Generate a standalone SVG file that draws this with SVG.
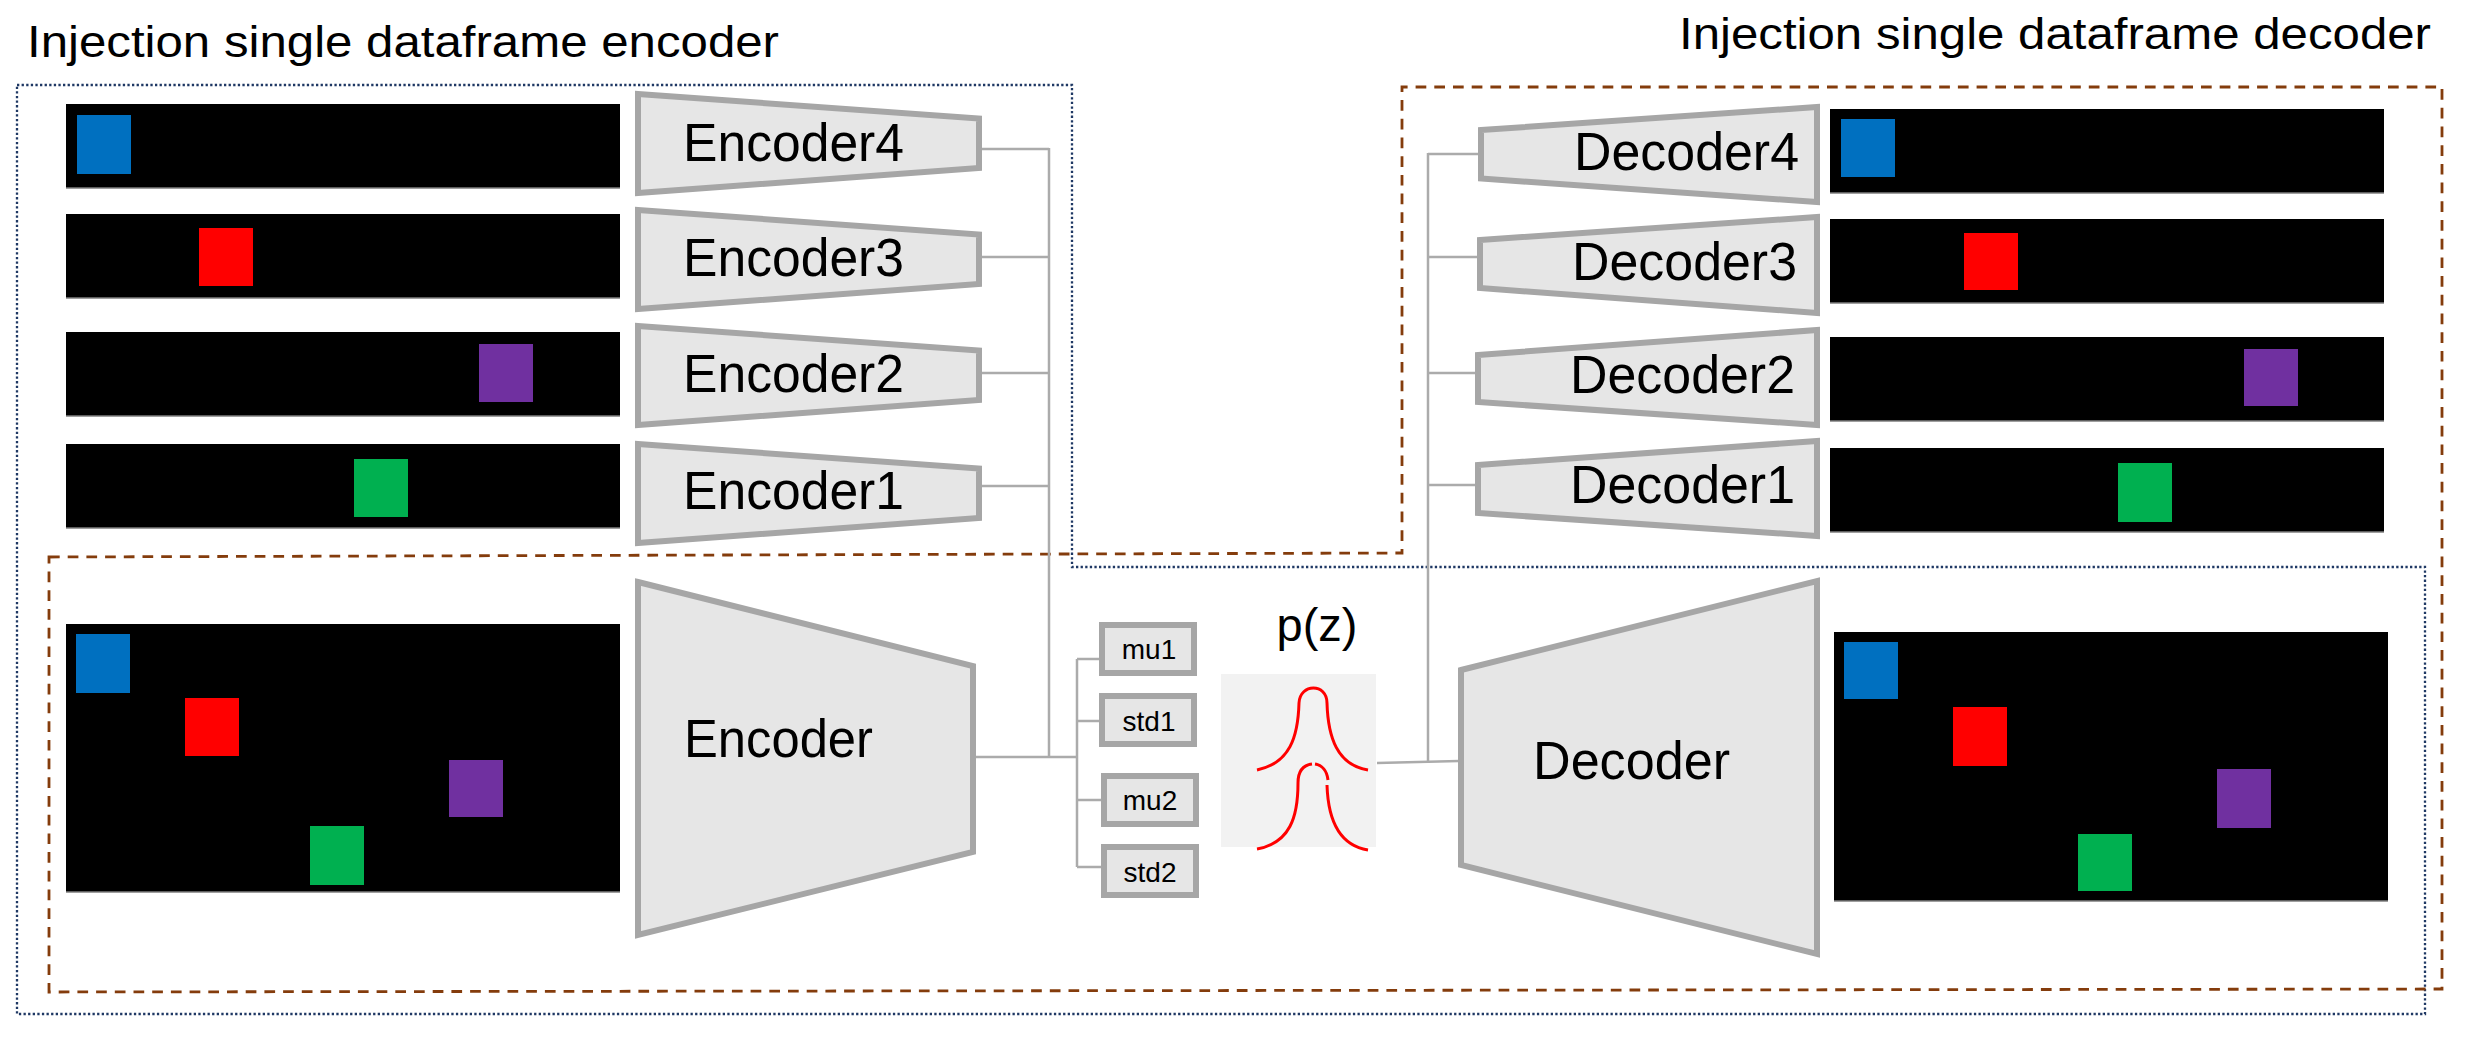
<svg xmlns="http://www.w3.org/2000/svg" width="2472" height="1050" viewBox="0 0 2472 1050">
<style>
.title{font-family:"Liberation Sans",Arial,sans-serif;font-size:45px;fill:#000}
.lbl{font-family:"Liberation Sans",Arial,sans-serif;font-size:54px;fill:#000}
.small{font-family:"Liberation Sans",Arial,sans-serif;font-size:28px;fill:#000;text-anchor:middle}
.trap{fill:#E6E6E6;stroke:#A6A6A6;stroke-width:6;stroke-linejoin:miter}
.box{fill:#E6E6E6;stroke:#A6A6A6;stroke-width:6}
.frame{fill:#000;stroke:none}
.fb{stroke:#7F7F7F;stroke-width:1.5}
.blue{fill:#0070C0}.red{fill:#FF0000}.purple{fill:#7030A0}.green{fill:#00B050}
.conn{fill:none;stroke:#ABABAB;stroke-width:2.5}
.dotted{fill:none;stroke:#1F3864;stroke-width:2.3;stroke-dasharray:2.3 2.3}
.dashed{fill:none;stroke:#843C0C;stroke-width:2.8;stroke-dasharray:10.7 8}
.curve{fill:none;stroke:#FF0000;stroke-width:3}
</style>
<rect width="2472" height="1050" fill="#fff"/>

<g id="titles">
<text class="title" x="27" y="57" textLength="752" lengthAdjust="spacingAndGlyphs">Injection single dataframe encoder</text>
<text class="title" x="1679" y="49" textLength="752" lengthAdjust="spacingAndGlyphs">Injection single dataframe decoder</text>
</g>

<g id="regions">
<path id="encoder-region" class="dotted" d="M17,85 H1072 V567 H2425 V1014 H17 Z"/>
<path id="decoder-region" class="dashed" d="M49,557 L1402,553 V87 H2442 V989 L49,992 Z"/>
</g>

<g id="connectors">
<path class="conn" d="M979,149 H1049 M979,257 H1049 M979,373 H1049 M979,486 H1049 M1049,148 V757"/>
<path class="conn" d="M976,757 H1077 M1077,659 V867 M1077,659 H1100 M1077,721 H1100 M1077,800 H1102 M1077,867 H1102"/>
<path class="conn" d="M1377,763 L1459,761"/>
<path class="conn" d="M1428,153 V762 M1428,154 H1481 M1428,257 H1480 M1428,373 H1478 M1428,485 H1478"/>
</g>

<g id="frame-e4"><rect class="frame" x="66" y="104" width="554" height="84"/><line class="fb" x1="66" y1="188" x2="620" y2="188"/><rect class="blue" x="77" y="115" width="54" height="59"/></g>
<g id="frame-e3"><rect class="frame" x="66" y="214" width="554" height="84"/><line class="fb" x1="66" y1="298" x2="620" y2="298"/><rect class="red" x="199" y="228" width="54" height="58"/></g>
<g id="frame-e2"><rect class="frame" x="66" y="332" width="554" height="84"/><line class="fb" x1="66" y1="416" x2="620" y2="416"/><rect class="purple" x="479" y="344" width="54" height="58"/></g>
<g id="frame-e1"><rect class="frame" x="66" y="444" width="554" height="84"/><line class="fb" x1="66" y1="528" x2="620" y2="528"/><rect class="green" x="354" y="459" width="54" height="58"/></g>

<g id="encoder4"><polygon class="trap" points="638,94 979,118.5 979,168 638,193"/><text class="lbl" x="683" y="161" textLength="221" lengthAdjust="spacingAndGlyphs">Encoder4</text></g>
<g id="encoder3"><polygon class="trap" points="638,210 979,234.5 979,284 638,309"/><text class="lbl" x="683" y="276" textLength="221" lengthAdjust="spacingAndGlyphs">Encoder3</text></g>
<g id="encoder2"><polygon class="trap" points="638,326 979,350.5 979,400 638,425"/><text class="lbl" x="683" y="392" textLength="221" lengthAdjust="spacingAndGlyphs">Encoder2</text></g>
<g id="encoder1"><polygon class="trap" points="638,444 979,468.5 979,518 638,543"/><text class="lbl" x="683" y="509" textLength="221" lengthAdjust="spacingAndGlyphs">Encoder1</text></g>

<g id="frame-input"><rect class="frame" x="66" y="624" width="554" height="268"/><line class="fb" x1="66" y1="892" x2="620" y2="892"/>
<rect class="blue" x="76" y="634" width="54" height="59"/><rect class="red" x="185" y="698" width="54" height="58"/><rect class="purple" x="449" y="760" width="54" height="57"/><rect class="green" x="310" y="826" width="54" height="59"/></g>

<g id="encoder"><polygon class="trap" points="638,582 973,666 973,852 638,935"/><text class="lbl" x="684" y="757" textLength="189" lengthAdjust="spacingAndGlyphs">Encoder</text></g>

<g id="mu1"><rect class="box" x="1102" y="625" width="92" height="48"/><text class="small" x="1149" y="659">mu1</text></g>
<g id="std1"><rect class="box" x="1102" y="696" width="92" height="48"/><text class="small" x="1149" y="731">std1</text></g>
<g id="mu2"><rect class="box" x="1104" y="776" width="92" height="48"/><text class="small" x="1150" y="810">mu2</text></g>
<g id="std2"><rect class="box" x="1104" y="847" width="92" height="48"/><text class="small" x="1150" y="882">std2</text></g>

<g id="pz">
<text x="1317" y="641" text-anchor="middle" style="font-family:'Liberation Sans',Arial,sans-serif;font-size:47px">p(z)</text>
<rect x="1221" y="674" width="155" height="173" fill="#F2F2F2"/>
<path class="curve" d="M1257,770 C1290,763 1298,737 1299,703 C1300,683 1327,683 1327,703 C1328,737 1337,765 1368,770"/>
<path class="curve" d="M1257,849 C1290,843 1298,817 1298,783 C1298,770 1304,765 1312,764"/>
<path class="curve" d="M1315,764 C1322,765 1327,771 1328,780"/>
<path class="curve" d="M1327,785 C1328,817 1337,845 1368,850"/>
</g>

<g id="decoder"><polygon class="trap" points="1461,670 1817,581 1817,954 1461,865"/><text class="lbl" x="1533" y="779" textLength="197" lengthAdjust="spacingAndGlyphs">Decoder</text></g>

<g id="frame-output"><rect class="frame" x="1834" y="632" width="554" height="269"/><line class="fb" x1="1834" y1="901" x2="2388" y2="901"/>
<rect class="blue" x="1844" y="642" width="54" height="57"/><rect class="red" x="1953" y="707" width="54" height="59"/><rect class="purple" x="2217" y="769" width="54" height="59"/><rect class="green" x="2078" y="834" width="54" height="57"/></g>

<g id="decoder4"><polygon class="trap" points="1481,130 1817,107 1817,202 1481,178.5"/><text class="lbl" x="1574" y="170" textLength="225" lengthAdjust="spacingAndGlyphs">Decoder4</text></g>
<g id="decoder3"><polygon class="trap" points="1480,240 1817,217 1817,313 1480,288"/><text class="lbl" x="1572" y="280" textLength="225" lengthAdjust="spacingAndGlyphs">Decoder3</text></g>
<g id="decoder2"><polygon class="trap" points="1478,355 1817,330 1817,425 1478,402"/><text class="lbl" x="1570" y="393" textLength="225" lengthAdjust="spacingAndGlyphs">Decoder2</text></g>
<g id="decoder1"><polygon class="trap" points="1478,465 1817,441 1817,536 1478,513"/><text class="lbl" x="1570" y="503" textLength="225" lengthAdjust="spacingAndGlyphs">Decoder1</text></g>

<g id="frame-d4"><rect class="frame" x="1830" y="109" width="554" height="84"/><line class="fb" x1="1830" y1="193" x2="2384" y2="193"/><rect class="blue" x="1841" y="119" width="54" height="58"/></g>
<g id="frame-d3"><rect class="frame" x="1830" y="219" width="554" height="84"/><line class="fb" x1="1830" y1="303" x2="2384" y2="303"/><rect class="red" x="1964" y="233" width="54" height="57"/></g>
<g id="frame-d2"><rect class="frame" x="1830" y="337" width="554" height="84"/><line class="fb" x1="1830" y1="421" x2="2384" y2="421"/><rect class="purple" x="2244" y="349" width="54" height="57"/></g>
<g id="frame-d1"><rect class="frame" x="1830" y="448" width="554" height="84"/><line class="fb" x1="1830" y1="532" x2="2384" y2="532"/><rect class="green" x="2118" y="463" width="54" height="59"/></g>
</svg>
